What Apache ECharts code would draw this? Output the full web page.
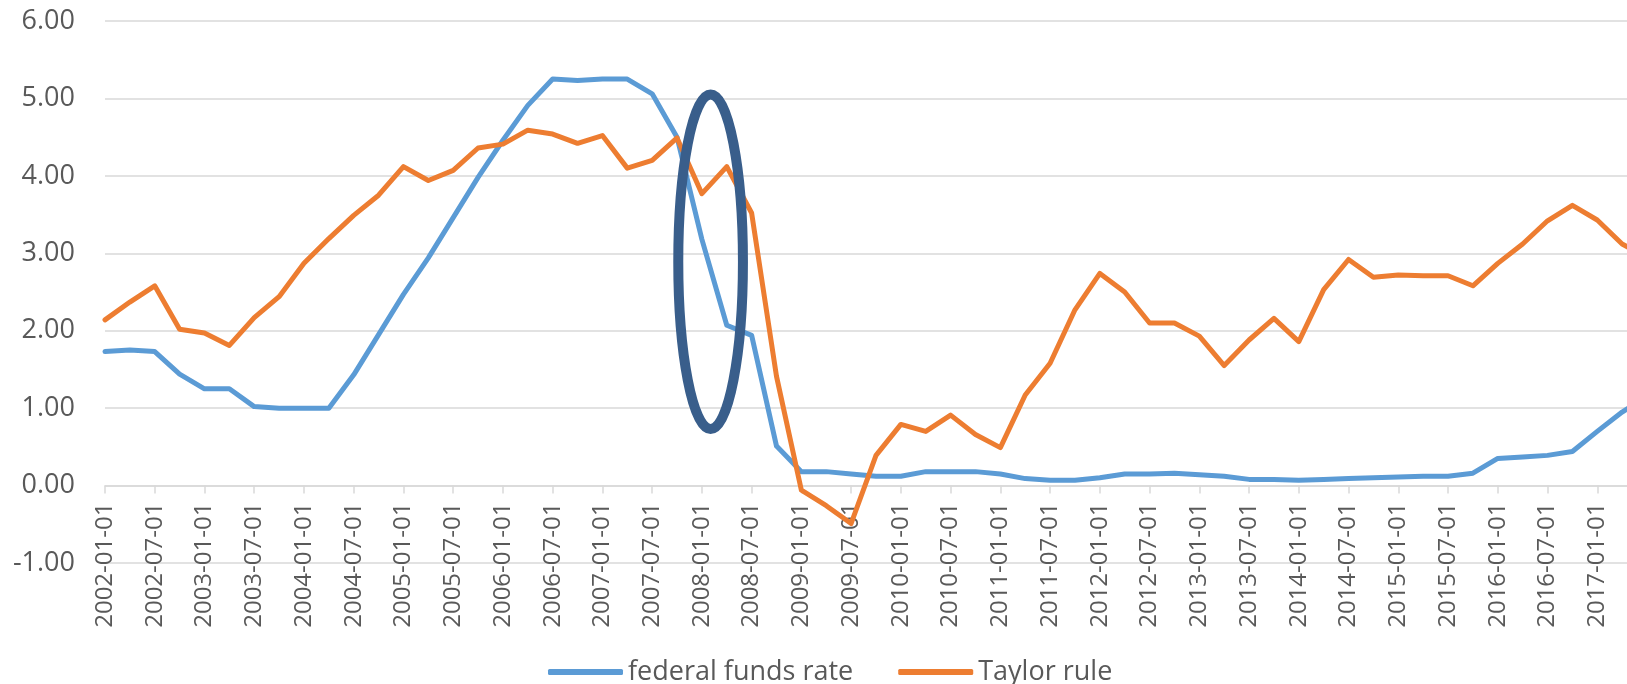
<!DOCTYPE html>
<html>
<head>
<meta charset="utf-8">
<title>federal funds rate vs Taylor rule</title>
<script src="https://cdn.jsdelivr.net/npm/echarts@6/dist/echarts.min.js"></script>
<style>
  html, body { margin: 0; padding: 0; background: #fff; }
  #chart { width: 1627px; height: 684px; }
</style>
</head>
<body>
<div id="chart"></div>
<script>
// quarterly dates, one label shown every second quarter
const quarters = [
  '2002-01-01', '2002-04-01', '2002-07-01', '2002-10-01',
  '2003-01-01', '2003-04-01', '2003-07-01', '2003-10-01',
  '2004-01-01', '2004-04-01', '2004-07-01', '2004-10-01',
  '2005-01-01', '2005-04-01', '2005-07-01', '2005-10-01',
  '2006-01-01', '2006-04-01', '2006-07-01', '2006-10-01',
  '2007-01-01', '2007-04-01', '2007-07-01', '2007-10-01',
  '2008-01-01', '2008-04-01', '2008-07-01', '2008-10-01',
  '2009-01-01', '2009-04-01', '2009-07-01', '2009-10-01',
  '2010-01-01', '2010-04-01', '2010-07-01', '2010-10-01',
  '2011-01-01', '2011-04-01', '2011-07-01', '2011-10-01',
  '2012-01-01', '2012-04-01', '2012-07-01', '2012-10-01',
  '2013-01-01', '2013-04-01', '2013-07-01', '2013-10-01',
  '2014-01-01', '2014-04-01', '2014-07-01', '2014-10-01',
  '2015-01-01', '2015-04-01', '2015-07-01', '2015-10-01',
  '2016-01-01', '2016-04-01', '2016-07-01', '2016-10-01',
  '2017-01-01', '2017-04-01', '2017-07-01'
]

const fedFunds = [
  1.73, 1.75, 1.73, 1.44, 1.25, 1.25, 1.02, 1.00,
  1.00, 1.00, 1.43, 1.95, 2.47, 2.94, 3.46, 3.98,
  4.46, 4.91, 5.25, 5.23, 5.25, 5.25, 5.06, 4.50,
  3.18, 2.07, 1.94, 0.51, 0.18, 0.18, 0.15, 0.12,
  0.12, 0.18, 0.18, 0.18, 0.15, 0.09, 0.07, 0.07,
  0.10, 0.15, 0.15, 0.16, 0.14, 0.12, 0.08, 0.08,
  0.07, 0.08, 0.09, 0.10, 0.11, 0.12, 0.12, 0.16,
  0.35, 0.37, 0.39, 0.44, 0.70, 0.95, 1.15
]

const taylorRule = [
  2.14, 2.37, 2.58, 2.02, 1.97, 1.81, 2.17, 2.44,
  2.87, 3.19, 3.49, 3.75, 4.12, 3.94, 4.07, 4.36,
  4.41, 4.59, 4.54, 4.42, 4.52, 4.10, 4.20, 4.49,
  3.77, 4.12, 3.52, 1.41, -0.06, -0.26, -0.49, 0.39,
  0.79, 0.70, 0.91, 0.66, 0.49, 1.17, 1.58, 2.27,
  2.74, 2.50, 2.10, 2.10, 1.93, 1.55, 1.88, 2.16,
  1.86, 2.53, 2.92, 2.69, 2.72, 2.71, 2.71, 2.58,
  2.87, 3.12, 3.42, 3.62, 3.43, 3.12, 2.95
]

const seriesNames = ['federal funds rate', 'Taylor rule']
const yRange = [-1, 6]

// hand drawn ring around the 2008 drop (category index / value units)
const highlight = { at: 24.35, value: 2.89, halfWidth: 1.3, halfHeight: 2.16 }

const FONT = '"Open Sans", sans-serif'
const GREY_TEXT = '#595959'
const GRID_LINE = '#D9D9D9'

const chart = echarts.init(document.getElementById('chart'))

const option = {
  animation: false,
  backgroundColor: '#fff',
  grid: {
    left: 105,
    right: -20,
    top: 21,
    bottom: 121,
    outerBoundsMode: 'none'
  },
  legend: {
    data: seriesNames,
    left: 543,
    top: 652,
    icon: 'roundRect',
    itemWidth: 75,
    itemHeight: 6,
    itemGap: 45,
    textStyle: {
      fontFamily: FONT,
      fontSize: 27,
      lineHeight: 30,
      color: GREY_TEXT
    }
  },
  xAxis: {
    type: 'category',
    data: quarters,
    boundaryGap: false,
    axisLine: { onZero: false, lineStyle: { color: GRID_LINE, width: 1.5 } },
    axisTick: { interval: 1, length: 8, lineStyle: { color: GRID_LINE, width: 1.5 } },
    axisLabel: {
      interval: 1,
      rotate: 90,
      margin: 17,
      fontFamily: FONT,
      fontSize: 24,
      color: GREY_TEXT
    },
    splitLine: { show: false }
  },
  yAxis: {
    type: 'value',
    min: yRange[0],
    max: yRange[1],
    interval: 1,
    axisLine: { show: false },
    axisTick: { show: false },
    axisLabel: {
      margin: 30,
      fontFamily: FONT,
      fontSize: 27,
      color: GREY_TEXT,
      formatter: v => v.toFixed(2)
    },
    splitLine: { lineStyle: { color: GRID_LINE, width: 1.5 } }
  },
  series: [
    {
      name: seriesNames[0],
      type: 'line',
      data: fedFunds,
      symbol: 'none',
      color: '#5B9BD5',
      lineStyle: { width: 5, join: 'round', cap: 'round' }
    },
    {
      name: seriesNames[1],
      type: 'line',
      data: taylorRule,
      symbol: 'none',
      color: '#ED7D31',
      lineStyle: { width: 5, join: 'round', cap: 'round' }
    }
  ]
}

chart.setOption(option)

// the category axis (line, ticks and labels) sits on the zero line, like Excel
const zeroY = chart.convertToPixel({ yAxisIndex: 0 }, 0)
const floorY = chart.convertToPixel({ yAxisIndex: 0 }, yRange[0])

// place the ring from data coordinates
const base = Math.floor(highlight.at)
const p0 = chart.convertToPixel({ gridIndex: 0 }, [base, highlight.value])
const p1 = chart.convertToPixel({ gridIndex: 0 }, [base + 1, highlight.value + highlight.halfHeight])
const step = p1[0] - p0[0]

chart.setOption({
  xAxis: { offset: zeroY - floorY },
  graphic: [
    {
      type: 'ellipse',
      z: 100,
      shape: {
        cx: p0[0] + (highlight.at - base) * step,
        cy: p0[1],
        rx: highlight.halfWidth * step,
        ry: p0[1] - p1[1]
      },
      style: { fill: 'none', stroke: '#395E8B', lineWidth: 10 }
    }
  ]
})
</script>
</body>
</html>
